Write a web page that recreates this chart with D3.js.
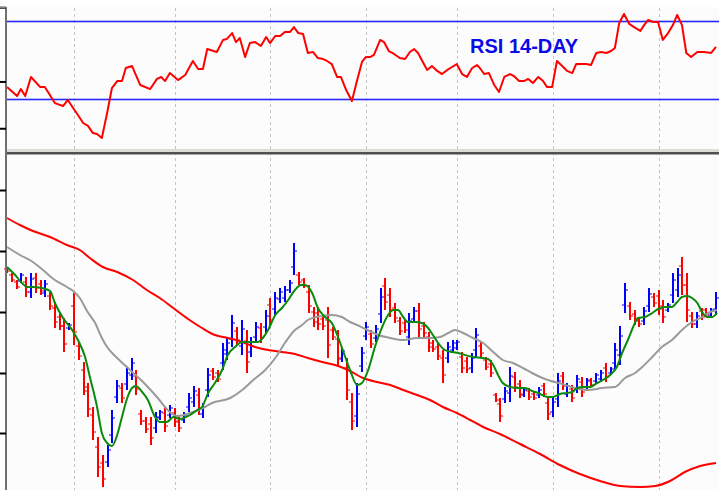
<!DOCTYPE html>
<html>
<head>
<meta charset="utf-8">
<script src="https://cdn.jsdelivr.net/npm/d3@7"></script>
<style>
    body { margin: 0; background: #ffffff; }
    svg { display: block; }
</style>
</head>
<body>
<svg id="chart" width="719" height="490"></svg>
<script>
// daily bars: [high, low, open, close]
const bars = [
    [223, 217, 221, 219], [217, 208, 215, 210], [210, 201, 208, 203], [217, 207, 209, 215],
    [213, 193, 208, 198], [217, 192, 198, 211], [217, 197, 212, 202], [210, 195, 206, 199],
    [210, 193, 197, 206], [198, 180, 194, 184], [188, 162, 182, 168], [177, 160, 173, 164],
    [172, 138, 164, 146], [167, 160, 162, 165], [197, 145, 184, 158], [148, 130, 144, 134],
    [128, 95, 120, 103], [107, 73, 99, 81], [83, 50, 75, 58], [53, 13, 43, 23],
    [35, 3, 27, 11], [45, 23, 28, 40], [80, 47, 55, 72], [110, 87, 93, 104],
    [107, 87, 102, 92], [123, 100, 106, 117], [132, 110, 115, 127], [120, 95, 114, 101],
    [80, 65, 76, 69], [73, 57, 69, 61], [73, 45, 66, 52], [78, 57, 62, 73],
    [80, 70, 72, 78], [83, 58, 77, 64], [85, 72, 75, 82], [82, 63, 77, 68],
    [73, 58, 69, 62], [78, 67, 70, 75], [97, 78, 83, 92], [104, 83, 88, 99],
    [102, 75, 95, 82], [87, 72, 76, 83], [122, 93, 100, 115], [122, 110, 119, 113],
    [120, 108, 117, 111], [147, 120, 127, 140], [153, 130, 136, 147], [175, 143, 151, 167],
    [163, 145, 159, 150], [170, 135, 144, 161], [160, 117, 149, 128], [153, 133, 138, 148],
    [168, 148, 153, 163], [167, 147, 162, 152], [180, 157, 163, 174], [192, 163, 185, 170],
    [198, 175, 181, 192], [202, 187, 191, 198], [204, 188, 192, 200], [210, 197, 200, 207],
    [247, 215, 223, 239], [218, 205, 215, 208], [212, 202, 210, 204], [205, 177, 198, 184],
    [183, 163, 178, 168], [183, 160, 177, 166], [175, 160, 171, 164], [183, 132, 170, 145],
    [163, 150, 160, 153], [160, 123, 151, 132], [142, 128, 131, 139], [132, 90, 122, 100],
    [97, 60, 88, 69], [107, 63, 74, 96], [143, 118, 124, 137], [168, 150, 154, 163],
    [160, 142, 156, 146], [165, 148, 152, 161], [202, 167, 176, 193], [212, 180, 204, 188],
    [202, 173, 195, 180], [187, 167, 182, 172], [173, 155, 169, 159], [170, 157, 167, 160],
    [177, 145, 153, 169], [183, 167, 171, 179], [187, 153, 179, 161], [168, 153, 164, 157],
    [158, 138, 153, 143], [150, 138, 147, 141], [147, 130, 143, 134], [140, 107, 132, 115],
    [148, 127, 132, 143], [150, 137, 140, 147], [150, 140, 142, 148], [138, 117, 133, 122],
    [133, 117, 129, 121], [137, 117, 122, 132], [162, 133, 140, 155], [148, 133, 144, 137],
    [133, 120, 130, 123], [130, 113, 126, 117], [97, 88, 95, 90], [92, 68, 86, 74],
    [103, 87, 91, 99], [123, 88, 97, 114], [118, 98, 113, 103], [110, 92, 106, 96],
    [102, 93, 95, 100], [102, 90, 99, 93], [98, 90, 96, 92], [103, 92, 95, 100],
    [107, 93, 104, 96], [93, 70, 87, 76], [93, 73, 78, 88], [117, 83, 91, 109],
    [118, 100, 114, 104], [107, 93, 96, 104], [105, 88, 101, 92], [115, 97, 101, 111],
    [113, 93, 108, 98], [112, 100, 103, 109], [112, 103, 110, 105], [117, 107, 109, 115],
    [120, 108, 111, 117], [127, 108, 122, 113], [123, 115, 117, 121], [147, 120, 127, 140],
    [164, 125, 135, 154], [207, 177, 185, 200], [188, 170, 184, 174], [180, 165, 176, 169],
    [173, 163, 170, 166], [183, 165, 169, 179], [202, 178, 184, 196], [197, 183, 193, 187],
    [200, 175, 194, 181], [190, 167, 184, 173], [187, 178, 180, 185], [217, 187, 195, 210],
    [222, 193, 200, 215], [233, 195, 224, 205], [217, 168, 205, 180], [178, 162, 174, 166],
    [178, 162, 166, 174], [182, 170, 179, 173], [182, 173, 180, 175], [182, 172, 175, 180],
    [198, 175, 181, 192]
];
const priceTicks = [300, 239, 178, 117, 57];

// moving averages: [day, value]
const maShort = [
    [0, 223], [1.7, 215], [3.1, 207], [4.2, 203], [5.4, 203], [7.3, 202], [9.0, 199], [10.0, 187],
    [11.7, 172], [13.6, 160], [14.8, 150], [16.3, 133], [17.3, 113], [18.8, 83], [19.8, 57], [20.9, 47],
    [21.9, 44], [23.0, 55], [24.0, 73], [25.1, 92], [26.1, 102], [26.9, 104], [28.2, 98], [29.4, 90],
    [30.9, 73], [31.9, 68], [33.4, 68], [34.7, 73], [36.1, 71], [38.2, 75], [39.7, 80], [40.7, 83],
    [42.0, 97], [43.4, 107], [44.9, 120], [46.1, 135], [47.6, 143], [49.1, 148], [50.3, 148], [52.4, 148],
    [53.4, 152], [54.5, 160], [56.0, 175], [57.4, 182], [58.7, 190], [60.1, 200], [61.4, 205], [62.2, 205],
    [63.7, 197], [64.9, 182], [66.4, 173], [67.8, 167], [69.1, 153], [70.6, 133], [71.6, 120], [73.1, 105],
    [74.1, 107], [75.4, 120], [76.8, 143], [77.9, 158], [79.3, 173], [80.6, 180], [81.6, 180], [82.7, 173],
    [83.7, 168], [85.2, 168], [86.6, 167], [87.9, 162], [88.9, 155], [90.0, 147], [91.4, 140], [92.9, 138],
    [94.2, 137], [95.6, 135], [97.3, 133], [99.2, 132], [100.4, 131], [101.5, 125], [102.5, 115], [103.5, 107],
    [105.0, 103], [106.7, 102], [108.1, 102], [109.6, 99], [110.9, 97], [112.9, 93], [114.0, 93], [115.4, 96],
    [116.9, 97], [118.0, 98], [119.0, 102], [120.3, 103], [121.7, 103], [123.2, 107], [124.4, 110], [125.9, 115],
    [127.3, 123], [128.4, 137], [129.6, 150], [130.7, 163], [131.7, 172], [133.2, 173], [134.7, 177], [135.9, 181],
    [137.4, 183], [138.8, 183], [139.9, 188], [140.9, 193], [142.0, 194], [143.0, 192], [144.1, 187], [145.1, 178],
    [146.1, 173], [147.2, 173], [148.2, 177]
];
const maMid = [
    [0, 243], [2.7, 235], [5.4, 228], [7.5, 220], [10.0, 210], [12.5, 203], [13.8, 199], [15.2, 192],
    [16.7, 179], [18.4, 167], [19.8, 152], [20.9, 143], [23.0, 132], [25.7, 120], [28.4, 108], [31.3, 93],
    [34.0, 78], [35.5, 74], [38.2, 77], [40.9, 82], [42.8, 87], [46.6, 92], [49.1, 100], [51.4, 110],
    [53.9, 120], [56.0, 132], [58.0, 147], [60.1, 160], [61.6, 165], [62.8, 170], [65.8, 174], [67.8, 175],
    [69.9, 173], [71.6, 168], [73.1, 165], [75.2, 160], [77.5, 155], [80.0, 152], [82.7, 150], [85.6, 152],
    [88.3, 152], [90.4, 153], [92.1, 157], [93.5, 160], [95.2, 157], [97.3, 152], [99.4, 147], [101.5, 138],
    [103.5, 130], [105.6, 127], [107.7, 122], [109.6, 117], [111.3, 113], [112.9, 110], [115.9, 106], [118.6, 102],
    [121.3, 100], [124.2, 102], [126.9, 103], [129.0, 112], [131.1, 117], [132.6, 123], [134.7, 133], [136.7, 143],
    [138.8, 150], [140.9, 160], [143.0, 168], [145.1, 173], [146.8, 178], [148.2, 180]
];
const maLong = [
    [0, 272], [2.7, 265], [5.4, 259], [9.0, 253], [12.5, 245], [15.2, 240], [17.3, 232], [20.0, 223],
    [23.0, 218], [26.3, 210], [29.2, 200], [31.9, 192], [34.7, 182], [37.8, 171], [40.7, 162], [43.4, 155],
    [46.1, 152], [49.1, 148], [51.8, 143], [54.5, 140], [57.4, 138], [60.1, 136], [62.8, 132], [65.8, 128],
    [68.5, 125], [71.2, 120], [74.3, 112], [77.2, 108], [80.0, 105], [82.7, 100], [85.6, 95], [88.3, 90],
    [91.0, 83], [93.9, 77], [96.7, 70], [99.4, 63], [102.9, 56], [107.1, 46], [111.3, 36], [115.4, 25],
    [119.6, 16], [123.8, 9], [128.0, 4], [132.2, 3], [135.3, 4], [138.4, 9], [141.5, 18], [144.7, 24],
    [148.0, 27]
];

// RSI 14-day: [day, value]
const rsiValues = [
    [0, 36.2], [2.1, 31.5], [2.9, 35.1], [3.8, 31.5], [5.0, 41.3], [6.9, 36.2], [7.9, 36.2], [10.0, 27.9],
    [11.7, 26.4], [12.7, 29.5], [13.8, 25.4], [14.8, 21.8], [15.9, 17.7], [16.9, 16.2], [17.9, 12.6], [18.8, 12.1],
    [19.8, 10.0], [20.9, 22.8], [21.9, 35.6], [23.0, 39.2], [24.0, 39.2], [24.8, 45.9], [26.1, 46.9], [27.8, 37.2],
    [29.9, 35.1], [31.3, 40.3], [32.2, 41.3], [33.0, 39.2], [34.0, 43.3], [35.7, 39.7], [37.2, 42.3], [38.8, 49.5],
    [39.9, 45.4], [40.9, 45.4], [41.8, 55.6], [43.8, 54.1], [45.1, 60.3], [45.9, 60.8], [47.0, 63.8], [47.8, 59.2],
    [48.6, 61.3], [49.7, 51.5], [50.7, 58.7], [51.8, 59.2], [53.0, 57.2], [54.1, 61.8], [54.9, 58.7], [56.0, 62.3],
    [57.0, 62.3], [58.0, 64.4], [59.1, 64.4], [59.9, 66.9], [60.8, 63.8], [61.8, 63.3], [62.8, 53.6], [63.9, 54.1],
    [64.9, 51.0], [66.0, 50.5], [66.8, 49.5], [67.8, 47.9], [68.9, 41.3], [69.7, 41.3], [70.8, 34.6], [72.0, 29.0],
    [73.1, 39.7], [74.1, 49.0], [74.9, 51.5], [75.8, 51.5], [76.6, 52.6], [77.9, 60.3], [78.7, 59.2], [79.7, 54.6],
    [80.8, 53.1], [82.0, 51.0], [83.1, 50.5], [84.1, 54.1], [85.0, 55.6], [85.8, 53.6], [86.8, 49.0], [87.7, 44.9],
    [88.7, 46.9], [89.8, 44.4], [90.8, 42.8], [91.9, 44.9], [92.9, 46.4], [93.9, 47.9], [95.0, 42.8], [96.0, 41.3],
    [97.1, 45.9], [98.1, 47.4], [98.7, 45.9], [99.6, 42.8], [100.6, 43.3], [101.7, 37.2], [102.7, 33.6], [103.8, 41.3],
    [105.0, 42.8], [105.8, 41.8], [106.9, 39.2], [107.9, 39.2], [108.8, 40.3], [109.8, 38.2], [110.9, 41.3], [111.9, 39.2],
    [112.7, 36.2], [113.8, 36.2], [114.8, 49.5], [115.9, 46.9], [116.9, 44.4], [118.0, 43.3], [118.8, 47.9], [119.8, 47.9],
    [120.9, 47.9], [121.9, 47.4], [123.0, 53.6], [124.0, 54.1], [125.1, 53.6], [126.1, 54.6], [126.9, 56.2], [127.8, 69.0],
    [128.8, 73.6], [129.9, 68.5], [130.9, 66.9], [132.2, 64.9], [133.0, 67.9], [133.8, 70.5], [134.9, 69.5], [135.9, 69.5],
    [136.9, 60.3], [138.0, 63.8], [139.0, 67.9], [139.9, 73.1], [140.9, 67.9], [141.8, 53.6], [142.8, 51.5], [144.1, 54.1],
    [145.5, 54.1], [147.0, 53.6], [148.0, 56.7]
];
const rsiLevels = [70, 30];
const rsiTicks = [77, 39, 15];
const rsiLabel = "RSI 14-DAY";

// month separators (day index)
const gridDays = [14, 35, 55, 75, 94, 114, 136];

const svg = d3.select("#chart");
const W = 719;
const axisX = 6;

const x = d3.scaleLinear().domain([0, bars.length - 1]).range([7, 716]);
const yRsi = d3.scaleLinear().domain([30, 70]).range([99, 21]);
const yPrice = d3.scaleLinear().domain([0, 336]).range([490, 154]);

// panel backgrounds
svg.append("rect")
    .attr("x", axisX).attr("y", 7)
    .attr("width", W - axisX).attr("height", 142)
    .attr("fill", "#fcfcfc");
svg.append("rect")
    .attr("x", axisX).attr("y", 154)
    .attr("width", W - axisX).attr("height", 336)
    .attr("fill", "#fcfcfc");

// dotted vertical grid
svg.append("g")
    .selectAll("line")
    .data(gridDays)
    .enter()
    .append("line")
    .attr("x1", (d) => Math.round(x(d)) + 0.5)
    .attr("x2", (d) => Math.round(x(d)) + 0.5)
    .attr("y1", 8)
    .attr("y2", 490)
    .attr("stroke", "#c4c4c4")
    .attr("stroke-width", 1)
    .attr("stroke-dasharray", "3,3");

// RSI panel: overbought / oversold levels
svg.append("g")
    .selectAll("rect")
    .data(rsiLevels)
    .enter()
    .append("rect")
    .attr("x", axisX)
    .attr("y", (d) => Math.round(yRsi(d)) - 0.3)
    .attr("width", W - axisX)
    .attr("height", 1.6)
    .attr("fill", "#2828ff");

svg.append("path")
    .datum(rsiValues)
    .attr("fill", "none")
    .attr("stroke", "#ff0000")
    .attr("stroke-width", 2)
    .attr("stroke-linejoin", "round")
    .attr("d", d3.line().x((d) => x(d[0])).y((d) => yRsi(d[1])));

svg.append("text")
    .attr("x", 470)
    .attr("y", 53)
    .attr("fill", "#0a0ae6")
    .attr("font-family", "Liberation Sans, Arial, sans-serif")
    .attr("font-weight", "bold")
    .attr("font-size", 20)
    .text(rsiLabel);

// price bars
const barG = svg.append("g");
const barColor = (d) => (d[3] >= d[2] ? "#0000ff" : "#ff0000");
barG.selectAll("rect.bar")
    .data(bars)
    .enter()
    .append("rect")
    .attr("class", "bar")
    .attr("x", (d, i) => Math.round(x(i)) - 1)
    .attr("y", (d) => yPrice(d[0]))
    .attr("width", 2)
    .attr("height", (d) => yPrice(d[1]) - yPrice(d[0]))
    .attr("fill", barColor);
barG.selectAll("rect.open")
    .data(bars)
    .enter()
    .append("rect")
    .attr("class", "open")
    .attr("x", (d, i) => Math.round(x(i)) - 3)
    .attr("y", (d) => yPrice(d[2]) - 0.5)
    .attr("width", 2)
    .attr("height", 1)
    .attr("fill", barColor);
barG.selectAll("rect.close")
    .data(bars)
    .enter()
    .append("rect")
    .attr("class", "close")
    .attr("x", (d, i) => Math.round(x(i)) + 1)
    .attr("y", (d) => yPrice(d[3]) - 0.5)
    .attr("width", 2)
    .attr("height", 1)
    .attr("fill", barColor);

// moving averages
const maLine = d3
    .line()
    .curve(d3.curveMonotoneX)
    .x((d) => x(d[0]))
    .y((d) => yPrice(d[1]));
[
    [maLong, "#ff0000"],
    [maMid, "#9a9a9a"],
    [maShort, "#0a8a0a"],
].forEach(([data, color]) => {
    svg.append("path")
        .datum(data)
        .attr("fill", "none")
        .attr("stroke", color)
        .attr("stroke-width", 2)
        .attr("d", maLine);
});

// panel separator
svg.append("rect")
    .attr("x", axisX).attr("y", 149)
    .attr("width", W - axisX).attr("height", 3)
    .attr("fill", "#dedcd6");
svg.append("rect")
    .attr("x", axisX).attr("y", 152)
    .attr("width", W - axisX).attr("height", 2.5)
    .attr("fill", "#505050");

// left axes
function styleAxis(g) {
    g.select(".domain").attr("stroke", "#707070").attr("stroke-width", 2);
    g.selectAll(".tick line").attr("stroke", "#000").attr("stroke-width", 2);
}
svg.append("g")
    .attr("transform", `translate(${axisX},0)`)
    .call(d3.axisLeft(yRsi).tickValues(rsiTicks).tickSize(7).tickSizeOuter(0).tickFormat(""))
    .call(styleAxis)
    .select(".domain")
    .attr("d", "M0,7V152");
svg.append("g")
    .attr("transform", `translate(${axisX},0)`)
    .call(d3.axisLeft(yPrice).tickValues(priceTicks).tickSize(7).tickSizeOuter(0).tickFormat(""))
    .call(styleAxis)
    .select(".domain")
    .attr("d", "M0,152V490");
svg.append("line")
    .attr("x1", 0).attr("x2", axisX)
    .attr("y1", 7.5).attr("y2", 7.5)
    .attr("stroke", "#808080")
    .attr("stroke-width", 2);
</script>
</body>
</html>
